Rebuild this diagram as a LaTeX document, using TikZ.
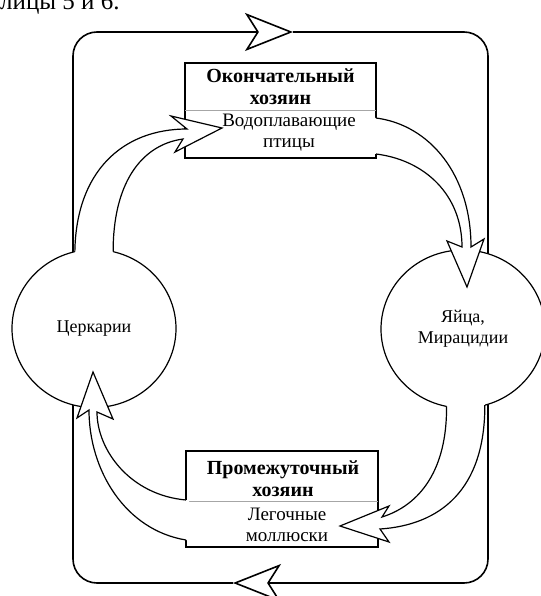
\documentclass[tikz,border=0pt]{standalone}
\usepackage{fontspec}
\setmainfont{Liberation Serif}
\usetikzlibrary{shapes.geometric,arrows.meta}

\tikzset{
  hostbox/.style={draw, rectangle, line width=1.2pt, fill=white, inner sep=0pt, outer sep=0pt},
  stage/.style={draw, ellipse, line width=1.2pt, fill=white, minimum width=164pt, minimum height=158pt,
    inner sep=0pt, outer sep=0pt, font=\fontsize{18}{21}\selectfont, align=center},
  blockline/.style={line width=1.2pt, line join=miter, miter limit=10},
  cycletip/.style={-{Stealth[length=48pt, width=38pt, inset=12pt, fill=white]}},
  hosttext/.style={font=\fontsize{19}{21}\selectfont, align=center, inner sep=0pt},
  hosthead/.style={hosttext, font=\fontsize{20}{21.5}\selectfont\bfseries},
}
\newcommand{\blockarrow}[2]{\fill[white] #1 #2 -- cycle; \draw[blockline] #1;}

\begin{document}
\begin{tikzpicture}[x=1pt, y=-1pt]
  \useasboundingbox (0,0) rectangle (540,596);
  \node[anchor=base west, inner sep=0pt, font=\fontsize{25}{28}\selectfont] (caption) at (0,10) {лицы 5 и 6.};

  % outer cycle
  \draw[line width=1.6pt, rounded corners=24pt, cycletip] (233,583) -- (73,583) -- (73,32) -- (293,32);
  \draw[line width=1.6pt, rounded corners=24pt, cycletip] (293,32) -- (488,32) -- (488,583) -- (233,583);

  % stages and hosts
  \node[stage] (cerc) at (94,328.5) {Церкарии};
  \node[stage] (eggs) at (463,329) {Яйца,\\Мирацидии};
  \node[hostbox, minimum width=191pt, minimum height=95pt] (final) at (280.5,110.5) {};
  \node[hostbox, minimum width=192pt, minimum height=96pt] (inter) at (282,499) {};
  \draw[gray!70, line width=0.6pt] (final.west) -- (final.east);
  \draw[gray!70, line width=0.6pt] ([yshift=-2pt]inter.west) -- ([yshift=-2pt]inter.east);

  % block arrows
  \blockarrow{(cerc.104) .. controls (76,172) and (122,129) .. (187,129) -- (171,116) -- (222,128)
    -- (175,152) -- (183,139) .. controls (140,145) and (113,185) .. (cerc.76)}{-- ++(0,8) -- ++(-38,0)}
  \blockarrow{([yshift=-7.5pt]final.east) .. controls (430,125) and (471,175) .. (471,247) -- (484,239)
    -- (467,287) -- (447,241) -- (462,247) .. controls (462,195) and (425,160) .. ([yshift=-43.5pt]final.east)}{-- ++(-3,0) -- ++(0,-36)}
  \blockarrow{(eggs.258) .. controls (447,470) and (420,505) .. (382,517) -- (389,506) -- (340,526)
    -- (389,542) -- (380,529) .. controls (440,525) and (485,490) .. (eggs.286)}{-- ++(0,-8) -- ++(-38,0)}
  \blockarrow{([yshift=-41pt]inter.west) .. controls (125,530) and (89,470) .. (89,410) -- (77,418)
    -- (93,372) -- (113,419) -- (97,412) .. controls (97,450) and (130,495) .. ([yshift=-1pt]inter.west)}{-- ++(3,0) -- ++(0,40)}

  % host labels
  \node[hosthead] (finalhead) at (280.5,86.5) {Окончательный\\хозяин};
  \node[hosttext] (finalname) at (289,133) {Водоплавающие\\птицы};
  \node[hosthead] (interhead) at (283,478.5) {Промежуточный\\хозяин};
  \node[hosttext] (intername) at (287,524.5) {Легочные\\моллюски};
\end{tikzpicture}
\end{document}
